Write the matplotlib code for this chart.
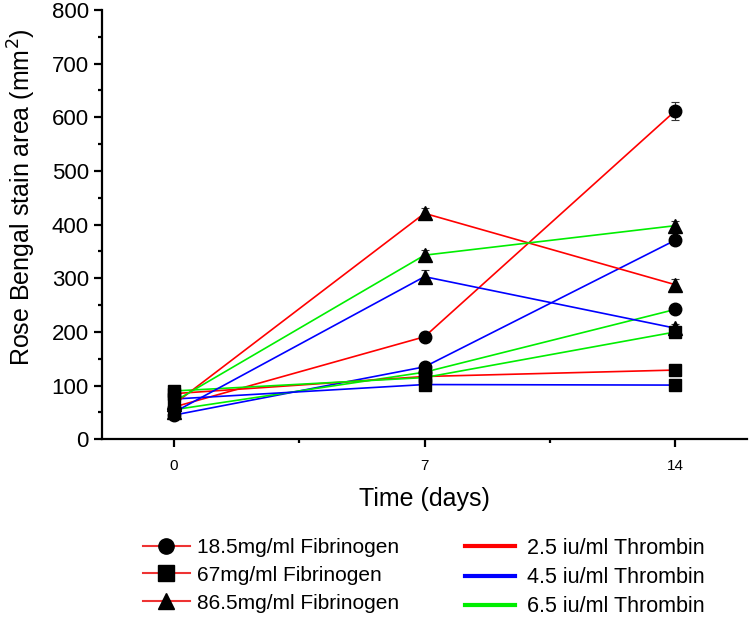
import matplotlib.pyplot as plt
from matplotlib.lines import Line2D
from matplotlib.ticker import MultipleLocator

plt.rcParams['font.family'] = ['Liberation Sans', 'DejaVu Sans']

# time points
days = [0, 7, 14]

# Rose Bengal stain area (mm^2) per fibrinogen / thrombin combination
fib18_thr25 = [60, 191, 612]
fib18_thr45 = [45, 135, 371]
fib18_thr65 = [55, 125, 242]
fib67_thr25 = [85, 117, 129]
fib67_thr45 = [75, 102, 101]
fib67_thr65 = [90, 115, 200]
fib86_thr25 = [65, 421, 288]
fib86_thr45 = [50, 303, 207]
fib86_thr65 = [70, 343, 398]

# error bars
err18_thr25 = [6, 8, 17]
err18_thr45 = [5, 6, 8]
err18_thr65 = [5, 6, 7]
err67_thr25 = [5, 5, 5]
err67_thr45 = [5, 5, 5]
err67_thr65 = [5, 5, 6]
err86_thr25 = [6, 10, 10]
err86_thr45 = [5, 12, 8]
err86_thr65 = [5, 10, 8]

fib_labels = ['18.5mg/ml Fibrinogen', '67mg/ml Fibrinogen', '86.5mg/ml Fibrinogen']
thr_labels = ['2.5 iu/ml Thrombin', '4.5 iu/ml Thrombin', '6.5 iu/ml Thrombin']

markers = ['o', 's', '^']
colors = ['#ff0000', '#0000ff', '#00ee00']

series = [
    [(fib18_thr25, err18_thr25), (fib18_thr45, err18_thr45), (fib18_thr65, err18_thr65)],
    [(fib67_thr25, err67_thr25), (fib67_thr45, err67_thr45), (fib67_thr65, err67_thr65)],
    [(fib86_thr25, err86_thr25), (fib86_thr45, err86_thr45), (fib86_thr65, err86_thr65)],
]

fig = plt.figure(figsize=(7.5, 6.17), dpi=100)
ax = fig.add_axes([0.136, 0.288, 0.86, 0.696])

for i, group in enumerate(series):
    for j, (vals, errs) in enumerate(group):
        ax.plot(days, vals, color=colors[j], lw=1.2, zorder=2)
        ax.errorbar(days, vals, yerr=errs, fmt='none', ecolor='#333333',
                    elinewidth=0.8, capsize=3, capthick=0.8, zorder=3)
        ax.plot(days, vals, ls='none', marker=markers[i], color='black',
                ms=10 if markers[i] == '^' else 9, zorder=4)

ax.set_xlim(-2, 16)
ax.set_ylim(0, 800)
ax.set_xticks(days)
ax.xaxis.set_minor_locator(MultipleLocator(3.5))
ax.yaxis.set_major_locator(MultipleLocator(100))
ax.yaxis.set_minor_locator(MultipleLocator(50))

for s in ['top', 'right']:
    ax.spines[s].set_visible(False)
for s in ['left', 'bottom']:
    ax.spines[s].set_linewidth(1.6)

ax.tick_params(which='major', length=6, width=1.6, direction='out')
ax.tick_params(which='minor', length=3, width=1.6, direction='out')
ax.tick_params(axis='y', labelsize=16)
ax.tick_params(axis='x', labelsize=11, pad=8)

ax.set_xlabel('Time (days)', fontsize=18, labelpad=10)
ax.set_ylabel('Rose Bengal stain area (mm$^2$)', fontsize=18)
ax.yaxis.set_label_coords(-0.1, 0.565)

# legends: marker types (with red line) and thrombin colours
fib_handles = [Line2D([], [], color='#ee3333', lw=1.5, marker=m, mfc='black',
                      mec='black', ms=11) for m in markers]
thr_handles = [Line2D([], [], color=c, lw=3) for c in colors]

leg1 = fig.legend(fib_handles, fib_labels, loc='upper left',
                  bbox_to_anchor=(0.19, 0.128), frameon=False, fontsize=15,
                  handlelength=2.3, handletextpad=0.3, labelspacing=0.42,
                  borderpad=0, borderaxespad=0)
leg2 = fig.legend(thr_handles, thr_labels, loc='upper left',
                  bbox_to_anchor=(0.62, 0.128), frameon=False, fontsize=15.5,
                  handlelength=2.3, handletextpad=0.6, labelspacing=0.38,
                  borderpad=0, borderaxespad=0)

fig.savefig('out.png', dpi=100)
